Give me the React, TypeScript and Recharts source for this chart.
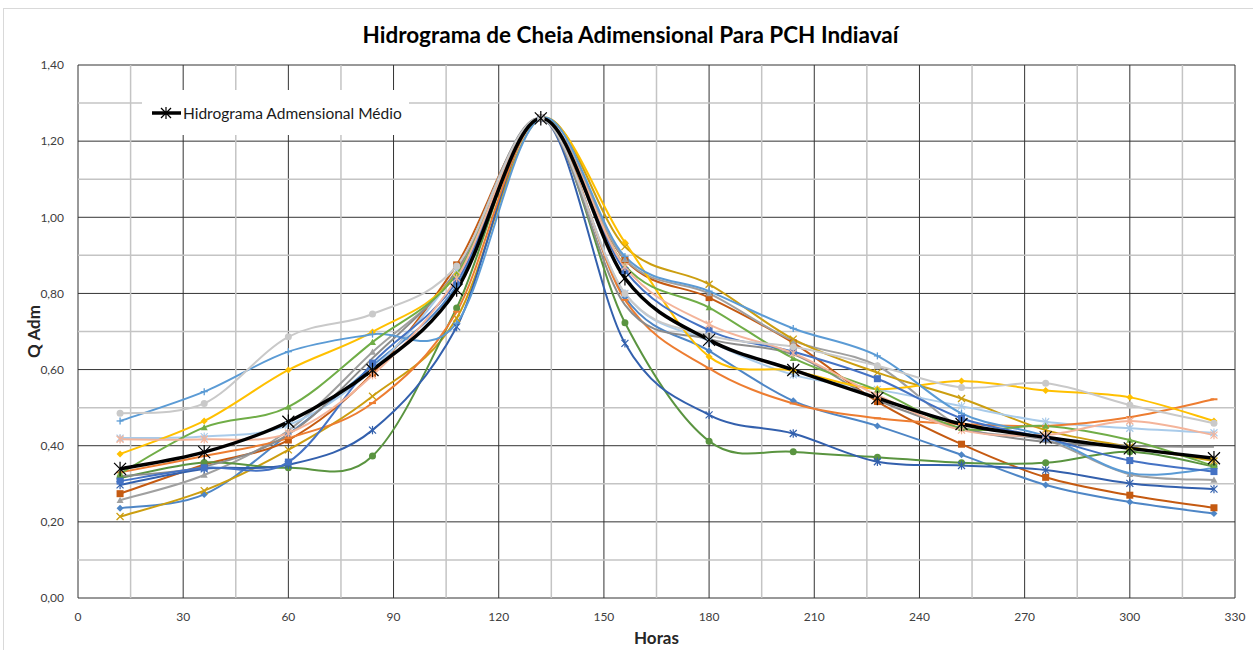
import { CartesianGrid, Legend, Line, LineChart, ReferenceLine, XAxis, YAxis } from "recharts"

const hours = [12, 36, 60, 84, 108, 132, 156, 180, 204, 228, 252, 276, 300, 324]

const steelDiamond = [0.236, 0.272, 0.43, 0.61, 0.82, 1.26, 0.79, 0.649, 0.518, 0.452, 0.376, 0.297, 0.252, 0.222]
const brownSquare = [0.274, 0.35, 0.415, 0.59, 0.875, 1.26, 0.888, 0.789, 0.67, 0.516, 0.404, 0.317, 0.27, 0.237]
const grayTriangle = [0.257, 0.323, 0.44, 0.646, 0.853, 1.26, 0.89, 0.8, 0.676, 0.61, 0.45, 0.415, 0.325, 0.31]
const goldCross = [0.214, 0.282, 0.389, 0.53, 0.735, 1.26, 0.923, 0.824, 0.68, 0.592, 0.524, 0.441, 0.397, 0.36]
const paleStar = [0.42, 0.424, 0.454, 0.6, 0.86, 1.26, 0.8, 0.675, 0.586, 0.548, 0.504, 0.463, 0.446, 0.434]
const greenCircle = [0.315, 0.356, 0.342, 0.373, 0.762, 1.26, 0.723, 0.412, 0.384, 0.37, 0.355, 0.355, 0.384, 0.345]
const navyStar = [0.297, 0.339, 0.35, 0.441, 0.712, 1.26, 0.669, 0.481, 0.432, 0.358, 0.348, 0.336, 0.301, 0.286]
const orangeDash = [0.33, 0.373, 0.42, 0.512, 0.752, 1.26, 0.783, 0.603, 0.511, 0.472, 0.457, 0.452, 0.475, 0.522]
const grayPlain = [0.32, 0.345, 0.43, 0.63, 0.86, 1.26, 0.77, 0.68, 0.64, 0.52, 0.445, 0.41, 0.4, 0.397]
const goldDiamond = [0.378, 0.465, 0.599, 0.699, 0.85, 1.26, 0.934, 0.634, 0.597, 0.549, 0.57, 0.545, 0.527, 0.465]
const bluePlus = [0.465, 0.542, 0.647, 0.693, 0.722, 1.26, 0.897, 0.806, 0.708, 0.636, 0.485, 0.425, 0.328, 0.341]
const greenTriangle = [0.327, 0.448, 0.502, 0.672, 0.85, 1.26, 0.873, 0.763, 0.63, 0.546, 0.446, 0.452, 0.415, 0.347]
const blueSquare = [0.307, 0.342, 0.357, 0.617, 0.831, 1.26, 0.86, 0.703, 0.647, 0.576, 0.472, 0.42, 0.361, 0.332]
const salmonStar = [0.417, 0.417, 0.433, 0.585, 0.84, 1.26, 0.87, 0.719, 0.643, 0.533, 0.441, 0.428, 0.465, 0.428]
const lightGrayCircle = [0.485, 0.511, 0.686, 0.746, 0.872, 1.26, 0.8, 0.69, 0.66, 0.61, 0.553, 0.564, 0.507, 0.459]
const average = [0.339, 0.383, 0.463, 0.599, 0.81, 1.26, 0.84, 0.678, 0.599, 0.525, 0.457, 0.422, 0.393, 0.367]

const xTicks = [0, 30, 60, 90, 120, 150, 180, 210, 240, 270, 300, 330]
const xMinor = [15, 45, 75, 105, 135, 165, 195, 225, 255, 285, 315]
const yTicks = [0, 0.2, 0.4, 0.6, 0.8, 1.0, 1.2, 1.4]
const yMinor = [0.1, 0.3, 0.5, 0.7, 0.9, 1.1, 1.3]

const title = "Hidrograma de Cheia Adimensional Para PCH Indiavaí"
const avgName = "Hidrograma Admensional Médio"

const series = [
  { key: "s1", values: steelDiamond, color: "#4E86C6", marker: "diamond" },
  { key: "s2", values: brownSquare, color: "#C55A11", marker: "square" },
  { key: "s3", values: grayTriangle, color: "#A0A0A0", marker: "triangle" },
  { key: "s4", values: goldCross, color: "#CC9E10", marker: "x" },
  { key: "s5", values: paleStar, color: "#A9CBEA", marker: "star" },
  { key: "s6", values: greenCircle, color: "#5A9440", marker: "circle" },
  { key: "s7", values: navyStar, color: "#3360AD", marker: "star" },
  { key: "s8", values: orangeDash, color: "#ED7D31", marker: "dash" },
  { key: "s9", values: grayPlain, color: "#8C8C8C", marker: "none" },
  { key: "s10", values: goldDiamond, color: "#FFC000", marker: "diamond" },
  { key: "s11", values: bluePlus, color: "#5B9BD5", marker: "plus" },
  { key: "s12", values: greenTriangle, color: "#70AD47", marker: "triangle" },
  { key: "s13", values: blueSquare, color: "#4472C4", marker: "square" },
  { key: "s14", values: salmonStar, color: "#F4B49A", marker: "star" },
  { key: "s15", values: lightGrayCircle, color: "#C9C9C9", marker: "circle" },
]

const data = hours.map((h, i) => {
  const row: Record<string, number> = { h, avg: average[i] }
  series.forEach((s) => (row[s.key] = s.values[i]))
  return row
})

// Excel-like smoothed line (bezier with 1/6 tangents)
function excelSmooth(context: any) {
  let pts: number[][] = []
  return {
    areaStart() {},
    areaEnd() {},
    lineStart() {
      pts = []
    },
    point(x: number, y: number) {
      pts.push([+x, +y])
    },
    lineEnd() {
      if (!pts.length) return
      context.moveTo(pts[0][0], pts[0][1])
      for (let i = 0; i < pts.length - 1; i++) {
        const p0 = pts[i - 1] || pts[i]
        const p1 = pts[i]
        const p2 = pts[i + 1]
        const p3 = pts[i + 2] || p2
        context.bezierCurveTo(
          p1[0] + (p2[0] - p0[0]) / 6,
          p1[1] + (p2[1] - p0[1]) / 6,
          p2[0] - (p3[0] - p1[0]) / 6,
          p2[1] - (p3[1] - p1[1]) / 6,
          p2[0],
          p2[1]
        )
      }
    },
  }
}

function drawMarker(shape: string, color: string, s: number, cx: number, cy: number, key: any) {
  switch (shape) {
    case "diamond":
      return <polygon key={key} points={`${cx},${cy - s} ${cx + s},${cy} ${cx},${cy + s} ${cx - s},${cy}`} fill={color} />
    case "square":
      return <rect key={key} x={cx - s} y={cy - s} width={s * 2} height={s * 2} fill={color} />
    case "triangle":
      return <polygon key={key} points={`${cx},${cy - s} ${cx + s},${cy + s * 0.8} ${cx - s},${cy + s * 0.8}`} fill={color} />
    case "circle":
      return <circle key={key} cx={cx} cy={cy} r={s} fill={color} />
    case "x":
      return (
        <g key={key} stroke={color} strokeWidth={1.3}>
          <line x1={cx - s} y1={cy - s} x2={cx + s} y2={cy + s} />
          <line x1={cx - s} y1={cy + s} x2={cx + s} y2={cy - s} />
        </g>
      )
    case "star":
      return (
        <g key={key} stroke={color} strokeWidth={1.2}>
          <line x1={cx - s} y1={cy - s} x2={cx + s} y2={cy + s} />
          <line x1={cx - s} y1={cy + s} x2={cx + s} y2={cy - s} />
          <line x1={cx} y1={cy - s * 1.2} x2={cx} y2={cy + s * 1.2} />
        </g>
      )
    case "plus":
      return (
        <g key={key} stroke={color} strokeWidth={1.3}>
          <line x1={cx - s} y1={cy} x2={cx + s} y2={cy} />
          <line x1={cx} y1={cy - s} x2={cx} y2={cy + s} />
        </g>
      )
    case "dash":
      return <line key={key} x1={cx - s} y1={cy} x2={cx + s} y2={cy} stroke={color} strokeWidth={2} />
    default:
      return <g key={key} />
  }
}

const markerFor = (shape: string, color: string, s: number) => (props: any) =>
  drawMarker(shape, color, s, props.cx, props.cy, `${props.dataKey}-${props.index}`)

const font = "Lato, 'Open Sans', sans-serif"

function AvgLegend() {
  return (
    <div style={{ width: 267, height: 45, background: "#fff", display: "flex", alignItems: "center", fontFamily: font, fontSize: 15.5, color: "#1a1a1a" }}>
      <svg width={31} height={20} style={{ marginLeft: 9 }}>
        <line x1={1} y1={10} x2={30} y2={10} stroke="#000" strokeWidth={3.5} />
        {drawMarker("star", "#000", 5, 15, 10, "lg")}
      </svg>
      <span style={{ marginLeft: 1 }}>{avgName}</span>
    </div>
  )
}

export default function App() {
  return (
    <div style={{ position: "absolute", left: 0, top: 0, width: 1253, height: 650, background: "#fff", overflow: "hidden" }}>
      <div style={{ position: "absolute", left: 3, top: 8, width: 1262, height: 660, border: "1px solid #d9d9d9" }} />
      <div style={{ position: "absolute", left: 0, top: 21, width: 1261, textAlign: "center", fontFamily: font, fontWeight: 700, fontSize: 22.5, color: "#000" }}>
        {title}
      </div>
      <LineChart width={1253} height={650} data={data} margin={{ top: 65, right: 18, bottom: 2, left: 0 }}>
        {xMinor.map((v) => (
          <ReferenceLine key={`vx${v}`} x={v} stroke="#c4c4c4" strokeWidth={1.5} />
        ))}
        {yMinor.map((v) => (
          <ReferenceLine key={`hy${v}`} y={v} stroke="#c4c4c4" strokeWidth={1.5} />
        ))}
        <CartesianGrid stroke="#333333" strokeWidth={1} />
        <XAxis
          dataKey="h"
          type="number"
          domain={[0, 330]}
          ticks={xTicks}
          interval={0}
          axisLine={false}
          tickLine={false}
          tickMargin={8}
          height={50}
          tick={{ fill: "#404040", fontSize: 12, fontFamily: font }}
          label={{ value: "Horas", position: "insideBottom", offset: 4, fill: "#262626", fontSize: 17, fontWeight: 700, fontFamily: font }}
        />
        <YAxis
          type="number"
          domain={[0, 1.4]}
          ticks={yTicks}
          interval={0}
          width={78}
          axisLine={false}
          tickLine={false}
          tickMargin={8}
          tickFormatter={(v: number) => v.toFixed(2).replace(".", ",")}
          tick={{ fill: "#404040", fontSize: 12, fontFamily: font }}
          label={{ value: "Q Adm", angle: -90, position: "insideLeft", offset: 34, style: { textAnchor: "middle" }, fill: "#262626", fontSize: 17, fontWeight: 700, fontFamily: font }}
        />
        <Legend
          layout="vertical"
          align="center"
          verticalAlign="middle"
          wrapperStyle={{ left: 142, top: 90, width: 267, height: 45 }}
          content={() => <AvgLegend />}
        />
        {series.map((s) => (
          <Line
            key={s.key}
            dataKey={s.key}
            type={excelSmooth as any}
            stroke={s.color}
            strokeWidth={2}
            dot={markerFor(s.marker, s.color, 3.5)}
            activeDot={false}
            legendType="none"
            isAnimationActive={false}
          />
        ))}
        <Line
          dataKey="avg"
          name={avgName}
          type={excelSmooth as any}
          stroke="#000"
          strokeWidth={3.5}
          dot={markerFor("star", "#000", 6)}
          activeDot={false}
          isAnimationActive={false}
        />
      </LineChart>
    </div>
  )
}
